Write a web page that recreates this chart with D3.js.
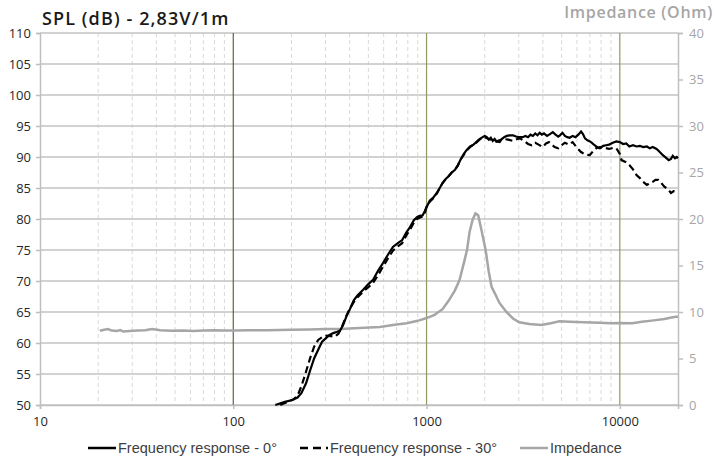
<!DOCTYPE html>
<html>
<head>
<meta charset="utf-8">
<script src="https://cdn.jsdelivr.net/npm/d3@7"></script>
<style>
  body { margin: 0; background: #fff; }
  svg { display: block; }
  .tick text { font-family: "Open Sans", sans-serif; }
</style>
</head>
<body>
<div id="chart"></div>
<script>
// Frequency response 0 deg: [Hz, dB]
const spl0 = [
  [165, 50.0], [185, 50.5], [202, 50.8], [215, 51.2], [225, 51.9], [238, 53.5], [250, 55.6],
  [262, 57.5], [275, 58.9], [288, 60.2], [300, 60.7], [315, 61.3], [329, 61.6], [345, 61.8],
  [357, 62.0], [370, 62.9], [385, 64.3], [402, 65.5], [420, 66.9], [440, 67.7], [470, 68.6],
  [500, 69.5], [529, 70.2], [560, 71.6], [595, 72.9], [630, 74.2], [670, 75.5], [710, 76.1],
  [748, 76.6], [785, 77.8], [821, 78.7], [860, 79.8], [892, 80.3], [920, 80.5], [955, 80.6],
  [980, 81.3], [1000, 81.9], [1040, 83.0], [1080, 83.4], [1130, 84.2], [1170, 85.0], [1210, 85.8],
  [1260, 86.5], [1300, 86.9], [1350, 87.5], [1400, 87.9], [1450, 88.6], [1500, 89.6], [1560, 90.5],
  [1610, 91.1], [1680, 91.7], [1750, 92.0], [1820, 92.5], [1880, 92.9], [1950, 93.2], [2000, 93.4],
  [2050, 93.2], [2100, 92.8], [2150, 93.1], [2200, 92.6], [2250, 92.9], [2300, 92.5], [2390, 92.4],
  [2450, 92.9], [2520, 93.2], [2600, 93.4], [2700, 93.5], [2800, 93.5], [2900, 93.3], [3000, 93.2],
  [3140, 93.2], [3250, 93.4], [3350, 93.2], [3450, 93.6], [3550, 93.4], [3650, 93.8], [3750, 93.5],
  [3850, 93.9], [3950, 93.6], [4050, 93.8], [4200, 93.4], [4350, 93.7], [4500, 94.0], [4650, 93.6],
  [4800, 93.3], [4900, 93.5], [5050, 93.9], [5200, 93.4], [5350, 93.2], [5500, 93.1], [5700, 93.4],
  [5900, 93.2], [6100, 93.6], [6300, 94.1], [6450, 93.7], [6600, 93.0], [6800, 92.7], [7100, 92.4],
  [7400, 91.9], [7700, 91.5], [7900, 91.4], [8200, 91.8], [8500, 91.9], [8800, 92.0], [9200, 92.3],
  [9600, 92.5], [10000, 92.4], [10400, 92.1], [10800, 92.2], [11200, 91.7], [11700, 91.9], [12200, 91.7],
  [12700, 91.8], [13200, 91.6], [13800, 91.7], [14300, 91.4], [14800, 91.6], [15500, 91.3], [16000, 90.9],
  [16700, 90.3], [17300, 89.9], [17900, 89.5], [18400, 89.7], [18800, 90.2], [19300, 89.8], [19700, 90.0],
  [20000, 89.8]
];

// Frequency response 30 deg: [Hz, dB]
const spl30 = [
  [175, 50.0], [190, 50.5], [205, 50.9], [215, 51.5], [225, 53.0], [237, 55.2], [250, 57.6],
  [262, 59.4], [275, 60.5], [290, 61.0], [305, 61.2], [320, 61.1], [335, 61.0], [350, 61.5],
  [365, 62.6], [380, 64.0], [400, 65.5], [420, 66.6], [440, 67.4], [470, 68.3], [500, 69.0],
  [529, 69.7], [560, 70.9], [595, 72.3], [630, 73.6], [670, 74.9], [710, 75.6], [748, 76.1],
  [785, 77.3], [821, 78.3], [860, 79.4], [892, 80.0], [920, 80.2], [955, 80.4], [980, 81.0],
  [1000, 82.0], [1040, 82.8], [1080, 83.3], [1130, 84.1], [1170, 85.0], [1210, 85.8], [1260, 86.5],
  [1300, 86.9], [1350, 87.5], [1400, 87.9], [1450, 88.6], [1500, 89.6], [1560, 90.4], [1610, 91.0],
  [1680, 91.6], [1750, 92.0], [1820, 92.4], [1880, 92.8], [1950, 93.1], [2000, 93.2], [2100, 92.9],
  [2200, 92.7], [2300, 92.5], [2380, 92.7], [2500, 92.9], [2650, 92.8], [2800, 92.6], [2950, 92.9],
  [3040, 93.0], [3200, 92.6], [3350, 92.1], [3500, 91.9], [3650, 92.3], [3800, 92.0], [4000, 91.6],
  [4150, 92.2], [4300, 92.4], [4450, 92.0], [4600, 91.6], [4800, 91.4], [5000, 91.9], [5200, 92.3],
  [5450, 92.0], [5700, 92.4], [6000, 91.5], [6300, 90.8], [6600, 90.4], [6990, 90.3], [7300, 91.0],
  [7600, 91.5], [7900, 91.6], [8300, 91.5], [8800, 91.3], [9300, 91.5], [9600, 91.4], [10000, 90.5],
  [10200, 89.5], [10700, 89.2], [11200, 88.7], [11700, 88.0], [12200, 87.1], [12700, 86.6], [13200, 86.0],
  [13800, 85.5], [14300, 85.8], [14800, 86.0], [15300, 86.3], [15800, 86.3], [16300, 85.9], [17000, 85.2],
  [17600, 84.9], [18400, 84.2], [19000, 84.5], [19500, 84.4], [20000, 84.4]
];

// Impedance: [Hz, Ohm]
const impedance = [
  [20.4, 7.99], [21.5, 8.1], [22.5, 8.17], [23.5, 8.0], [25, 7.95], [26, 8.05], [27, 7.9],
  [29, 7.95], [32, 8.0], [35, 8.05], [38, 8.17], [42, 8.05], [48, 7.98], [55, 8.02], [62, 7.95],
  [70, 8.0], [80, 8.03], [90, 8.0], [100, 8.02], [120, 8.03], [150, 8.05], [200, 8.08], [250, 8.12],
  [300, 8.16], [357, 8.17], [450, 8.28], [572, 8.4], [700, 8.65], [790, 8.8], [900, 9.05],
  [1000, 9.35], [1100, 9.7], [1210, 10.3], [1300, 11.2], [1400, 12.3], [1480, 13.4], [1570, 15.5],
  [1620, 16.7], [1670, 18.6], [1730, 19.9], [1790, 20.6], [1850, 20.4], [1925, 18.8], [2020, 16.7],
  [2100, 14.3], [2170, 12.7], [2270, 11.9], [2380, 11.0], [2590, 10.0], [2800, 9.3], [3020, 8.9],
  [3400, 8.7], [3930, 8.6], [4400, 8.8], [4870, 9.0], [5500, 8.95], [6500, 8.9], [7850, 8.85],
  [9000, 8.8], [10000, 8.82], [11600, 8.8], [13000, 8.95], [15000, 9.1], [17000, 9.25], [18500, 9.4],
  [19600, 9.5], [20000, 9.5]
];

const freqTicks = [10, 100, 1000, 10000];
const splTicks = d3.range(50, 111, 5);
const ohmTicks = d3.range(0, 41, 5);
const legendItems = ["Frequency response - 0°", "Frequency response - 30°", "Impedance"];

const width = 715;
const height = 457;
const marginTop = 33;
const marginRight = 37;
const marginBottom = 52;
const marginLeft = 40;

const x = d3.scaleLog()
    .domain([10, 20000])
    .range([marginLeft, width - marginRight]);

const y = d3.scaleLinear()
    .domain([50, 110])
    .range([height - marginBottom, marginTop]);

const yOhm = d3.scaleLinear()
    .domain([0, 40])
    .range([height - marginBottom, marginTop]);

const svg = d3.select("#chart").append("svg")
    .attr("width", width)
    .attr("height", height)
    .attr("viewBox", [0, 0, width, height]);

// minor vertical grid (dashed)
const minor = x.ticks().filter(f => !freqTicks.includes(f) && f < 20000);
svg.append("g")
  .selectAll("line")
  .data(minor)
  .join("line")
    .attr("x1", d => x(d)).attr("x2", d => x(d))
    .attr("y1", marginTop).attr("y2", height - marginBottom)
    .attr("stroke", "#d9d9d9")
    .attr("stroke-dasharray", "4,3");

// horizontal grid
svg.append("g")
  .selectAll("line")
  .data(splTicks)
  .join("line")
    .attr("x1", marginLeft).attr("x2", width - marginRight)
    .attr("y1", d => y(d)).attr("y2", d => y(d))
    .attr("stroke", "#c3c3c3")
    .attr("stroke-width", 1.5);

// major vertical grid
svg.append("g")
  .selectAll("line")
  .data(freqTicks.slice(1))
  .join("line")
    .attr("x1", d => x(d)).attr("x2", d => x(d))
    .attr("y1", marginTop).attr("y2", height - marginBottom)
    .attr("stroke", d => d === 100 ? "#5a6648" : "#8c9a63")
    .attr("stroke-width", 1.2);

// axes
const leftAxis = svg.append("g")
    .attr("transform", `translate(${marginLeft},0)`)
    .call(d3.axisLeft(y).tickValues(splTicks).tickSize(4).tickPadding(5));
leftAxis.selectAll("text").attr("font-size", 13).attr("fill", "#262626");

const rightAxis = svg.append("g")
    .attr("transform", `translate(${width - marginRight},0)`)
    .call(d3.axisRight(yOhm).tickValues(ohmTicks).tickSize(5).tickPadding(6));
rightAxis.selectAll("text").attr("font-size", 13).attr("fill", "#a6a6a6");

const bottomAxis = svg.append("g")
    .attr("transform", `translate(0,${height - marginBottom})`)
    .call(d3.axisBottom(x).tickValues(freqTicks).tickFormat(d3.format("d")).tickSize(4).tickPadding(8));
bottomAxis.selectAll("text").attr("font-size", 13).attr("fill", "#262626");

svg.selectAll(".domain, .tick line").attr("stroke", "#bfbfbf").attr("stroke-width", 1.5);

// curves
const line = d3.line()
    .x(d => x(d[0]))
    .y(d => y(d[1]));
const lineOhm = d3.line()
    .x(d => x(d[0]))
    .y(d => yOhm(d[1]));

svg.append("path")
    .datum(impedance)
    .attr("fill", "none")
    .attr("stroke", "#a6a6a6")
    .attr("stroke-width", 2.5)
    .attr("d", lineOhm);

svg.append("path")
    .datum(spl30)
    .attr("fill", "none")
    .attr("stroke", "#000")
    .attr("stroke-width", 2.2)
    .attr("stroke-dasharray", "7,4")
    .attr("d", line);

svg.append("path")
    .datum(spl0)
    .attr("fill", "none")
    .attr("stroke", "#000")
    .attr("stroke-width", 2.2)
    .attr("d", line);

// titles
svg.append("text")
    .attr("x", 42).attr("y", 25)
    .attr("font-family", "'Open Sans', sans-serif")
    .attr("font-weight", 600)
    .attr("font-size", 18)
    .attr("letter-spacing", 1.1)
    .attr("fill", "#1a1a1a")
    .text("SPL (dB) - 2,83V/1m");

svg.append("text")
    .attr("x", 713).attr("y", 18)
    .attr("text-anchor", "end")
    .attr("font-family", "'Open Sans', sans-serif")
    .attr("font-weight", 600)
    .attr("font-size", 16)
    .attr("letter-spacing", 0.7)
    .attr("fill", "#a6a6a6")
    .text("Impedance (Ohm)");

// legend
const legendX = [88, 300, 520];
const legendStyle = [
  { stroke: "#000", dash: null },
  { stroke: "#000", dash: "8,5" },
  { stroke: "#a6a6a6", dash: null }
];
const legend = svg.append("g")
  .selectAll("g")
  .data(legendItems)
  .join("g")
    .attr("transform", (d, i) => `translate(${legendX[i]},448)`);
legend.append("line")
    .attr("x1", 0).attr("x2", 28)
    .attr("stroke", (d, i) => legendStyle[i].stroke)
    .attr("stroke-width", 2.5)
    .attr("stroke-dasharray", (d, i) => legendStyle[i].dash);
legend.append("text")
    .attr("x", 30).attr("dy", "0.35em")
    .attr("font-family", "'Liberation Sans Narrow', 'Liberation Sans', sans-serif")
    .attr("font-size", 14.5)
    .attr("fill", "#404040")
    .text(d => d);
</script>
</body>
</html>
